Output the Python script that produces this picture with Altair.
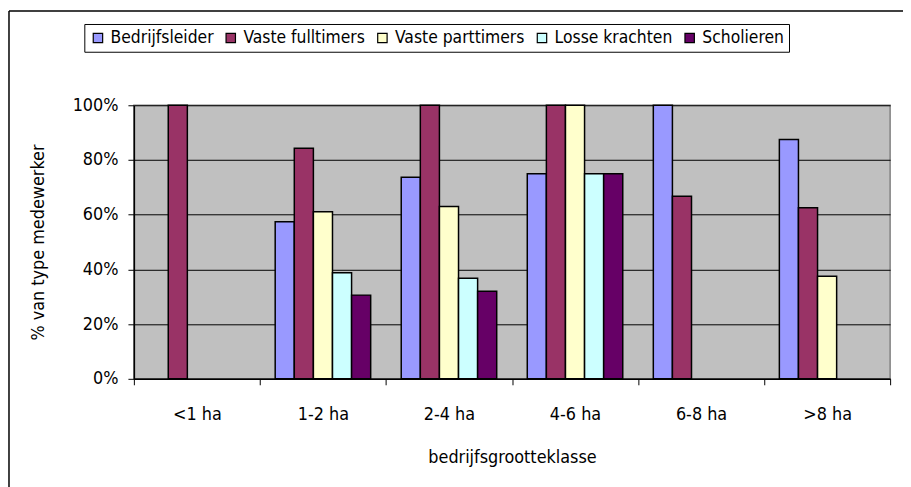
import altair as alt
import pandas as pd

categories = ["<1 ha", "1-2 ha", "2-4 ha", "4-6 ha", "6-8 ha", ">8 ha"]
series = ["Bedrijfsleider", "Vaste fulltimers", "Vaste parttimers", "Losse krachten", "Scholieren"]
colors = ["#9999FF", "#993366", "#FFFFCC", "#CCFFFF", "#660066"]

# values in % (None = no bar)
bedrijfsleider = [None, 57.4, 73.7, 75.0, 100.0, 87.5]
vaste_fulltimers = [100.0, 84.3, 100.0, 100.0, 66.7, 62.5]
vaste_parttimers = [None, 61.1, 63.0, 100.0, None, 37.5]
losse_krachten = [None, 38.8, 36.8, 75.0, None, None]
scholieren = [None, 30.6, 32.0, 75.0, None, None]

values = [bedrijfsleider, vaste_fulltimers, vaste_parttimers, losse_krachten, scholieren]
rows = []
for s, vals in zip(series, values):
    for c, v in zip(categories, vals):
        if v is not None:
            rows.append({"klasse": c, "type": s, "pct": v / 100.0})
df = pd.DataFrame(rows)

FONT = "DejaVu Sans Condensed, DejaVu Sans, sans-serif"

bars = alt.Chart(df).mark_bar(stroke="black", strokeWidth=1.5).encode(
    x=alt.X("klasse:N", sort=categories,
            scale=alt.Scale(domain=categories, paddingInner=0, paddingOuter=0),
            axis=alt.Axis(title="bedrijfsgrootteklasse", labelAngle=0, tickBand="extent",
                          tickSize=6, tickColor="black", domainColor="black", domainWidth=1.5,
                          labelPadding=21, titlePadding=25, labelFontSize=18, titleFontSize=18,
                          labelColor="black", titleColor="black", titleFontWeight="normal",
                          labelFont=FONT, titleFont=FONT, grid=False)),
    xOffset=alt.XOffset("type:N", sort=series,
                        scale=alt.Scale(domain=series, paddingInner=0, paddingOuter=0.8)),
    y=alt.Y("pct:Q", scale=alt.Scale(domain=[0, 1]),
            axis=alt.Axis(title="% van type medewerker", format=".0%", values=[0, 0.2, 0.4, 0.6, 0.8, 1.0],
                          tickSize=6, tickColor="black", domainColor="black", domainWidth=1.5,
                          gridColor="#000000", gridWidth=1, labelPadding=10, titlePadding=25,
                          labelFontSize=18, titleFontSize=18, labelColor="black", titleColor="black",
                          titleFontWeight="normal", labelFont=FONT, titleFont=FONT)),
    color=alt.Color("type:N", sort=series,
                    scale=alt.Scale(domain=series, range=colors),
                    legend=alt.Legend(title=None, orient="none", legendX=-50, legendY=-82,
                                      direction="horizontal", columns=5, symbolType="square",
                                      symbolSize=90, symbolStrokeColor="black", symbolStrokeWidth=1.2,
                                      labelFontSize=17.5, labelFont=FONT, labelColor="black",
                                      columnPadding=8, labelOffset=4, strokeColor="black",
                                      fillColor="white", padding=5, labelLimit=300)),
)

frame = pd.DataFrame({"k": [0]})
left_border = alt.Chart(frame).mark_rule(color="black", strokeWidth=1.5).encode(
    x=alt.value(-126), y=alt.value(-95), y2=alt.value(390)
)
top_border = alt.Chart(frame).mark_rule(color="black", strokeWidth=1.5).encode(
    x=alt.value(-126), x2=alt.value(790), y=alt.value(-95)
)

chart = alt.layer(bars, left_border, top_border).properties(
    width=763, height=276,
    padding={"left": 127, "top": 96, "right": 13, "bottom": 107},
    autosize=alt.AutoSizeParams(type="none"),
    background="white",
).configure_view(
    fill="#C0C0C0", stroke="#808080", strokeWidth=1.5,
)

chart.save("out.html", embed_options={"renderer": "svg", "actions": False})
